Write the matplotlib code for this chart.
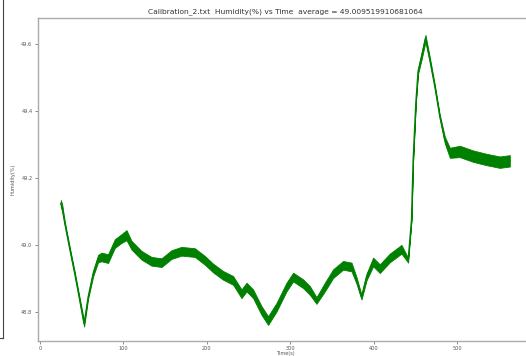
import matplotlib
matplotlib.use("Agg")
import matplotlib.pyplot as plt
from matplotlib.lines import Line2D
import numpy as np

# Time (s) and humidity (%)
time_s = [24.8, 26.5, 29.6, 35.6, 41.6, 45.6, 52.8, 57.6, 63.6, 69.5, 73.6, 81.5,
          89.6, 97.6, 103.6, 109.6, 121.6, 133.6, 145.6, 157.5, 169.5, 185.5,
          197.5, 207.4, 219.4, 231.4, 241.5, 247.5, 255.4, 265.5, 273.4, 283.5,
          295.4, 303.4, 315.4, 323.4, 331.4, 341.4, 351.3, 363.3, 373.4, 379.4,
          385.4, 391.4, 399.3, 407.3, 419.3, 433.3, 441.3, 445.3, 447.3, 450.5,
          453.2, 457.3, 462.1, 467.3, 473.3, 479.3, 485.3, 491.3, 503.2, 519.2,
          535.2, 551.2, 563.2]
humidity = [49.125, 49.112, 49.066, 48.989, 48.915, 48.862, 48.765, 48.845, 48.915,
            48.960, 48.965, 48.960, 49.005, 49.020, 49.030, 49.000, 48.970, 48.952,
            48.948, 48.972, 48.982, 48.978, 48.955, 48.932, 48.910, 48.895, 48.855,
            48.875, 48.855, 48.805, 48.775, 48.815, 48.875, 48.905, 48.885, 48.865,
            48.835, 48.875, 48.915, 48.940, 48.935, 48.895, 48.845, 48.905, 48.950,
            48.930, 48.962, 48.988, 48.955, 49.075, 49.254, 49.424, 49.519, 49.563,
            49.618, 49.554, 49.474, 49.384, 49.314, 49.276, 49.280, 49.266, 49.256,
            49.248, 49.252]
# half-width of the visible noise band around the trace
noise = [0.010, 0.010, 0.005, 0.005, 0.005, 0.005, 0.008, 0.005, 0.008, 0.011,
         0.013, 0.013, 0.013, 0.013, 0.015, 0.013, 0.013, 0.013, 0.013, 0.013,
         0.013, 0.013, 0.013, 0.013, 0.013, 0.013, 0.013, 0.013, 0.013, 0.013,
         0.013, 0.013, 0.013, 0.013, 0.013, 0.013, 0.010, 0.013, 0.013, 0.013,
         0.013, 0.010, 0.007, 0.010, 0.013, 0.013, 0.013, 0.013, 0.007, 0.000,
         0.000, 0.000, 0.007, 0.010, 0.010, 0.007, 0.005, 0.005, 0.010, 0.015,
         0.017, 0.017, 0.017, 0.017, 0.017]

title = "Calibration_2.txt  Humidity(%) vs Time  average = 49.009519910681064"

fig = plt.figure(figsize=(5.26, 3.56), dpi=100)
ax = fig.add_axes([38 / 526, 1 - 341 / 356, (533 - 38) / 526, (341 - 17.5) / 356])

t = np.array(time_s)
h = np.array(humidity)
n = np.array(noise)
ax.fill_between(t, h - n, h + n, color="green", lw=0.6, edgecolor="green")
ax.plot(t, h, color="green", lw=1.0)

ax.set_xlim(-2.5, 591)
ax.set_ylim(48.714, 49.680)
ax.set_xticks([0, 100, 200, 300, 400, 500])
ax.set_yticks([48.8, 49.0, 49.2, 49.4, 49.6])
ax.tick_params(labelsize=3.6, length=2, width=0.6, color="#777777", labelcolor="#555555", pad=2)
ax.tick_params(axis="x", pad=1.5)
for s in ax.spines.values():
    s.set_color("#aaaaaa")
    s.set_linewidth(1.0)
ax.set_title(title, fontsize=5.4, color="#333333", pad=3)
ax.set_xlabel("Time(s)", fontsize=3.6, color="#555555", labelpad=0.2)
ax.set_ylabel("Humidity(%)", fontsize=3.6, color="#555555", labelpad=4)

# border of neighbouring panel on the left
fig.add_artist(Line2D([3 / 526, 3 / 526], [1, 1 - 338 / 356], transform=fig.transFigure,
                      color="#444444", lw=0.8))
fig.add_artist(Line2D([0, 3 / 526], [1 - 338 / 356, 1 - 338 / 356], transform=fig.transFigure,
                      color="#444444", lw=0.8))

fig.savefig("out.png", dpi=100)
